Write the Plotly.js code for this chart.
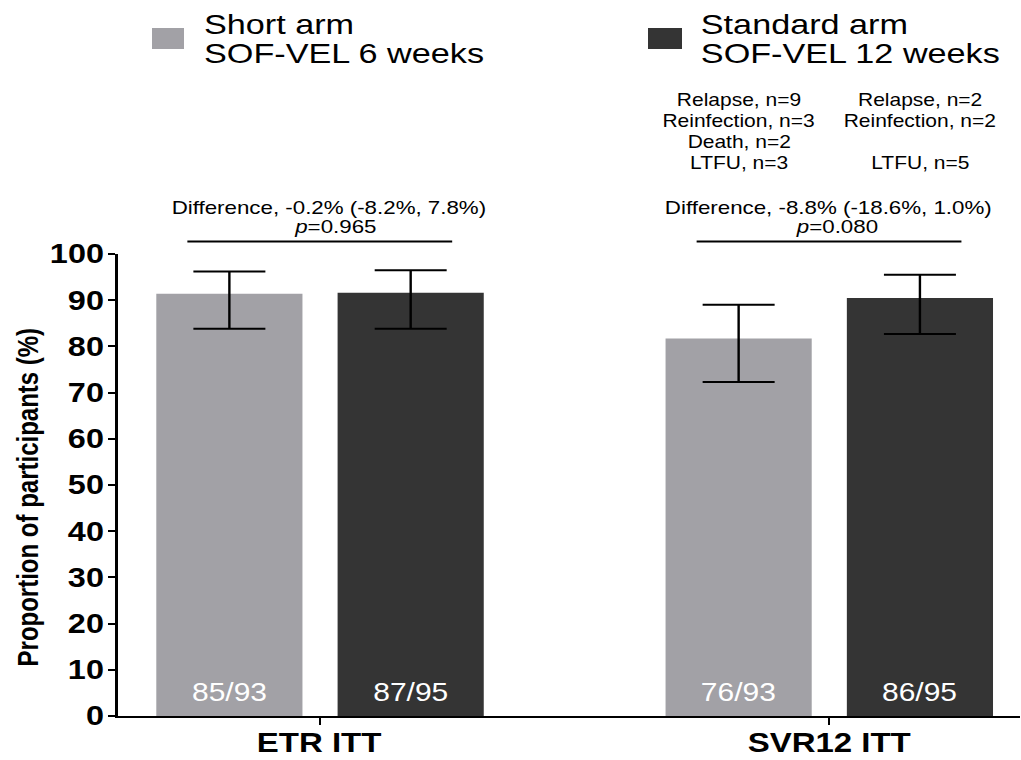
<!DOCTYPE html>
<html>
<head>
<meta charset="utf-8">
<script src="https://cdn.plot.ly/plotly-3.0.1.min.js"></script>
<style>
  html, body { margin: 0; padding: 0; background: #ffffff; overflow: hidden; }
  #chart { width: 851px; height: 760px; transform: scaleX(1.2); transform-origin: 0 0; }
</style>
</head>
<body>
<div id="chart"></div>
<script>
// ---------------- data ----------------
const categories = ['ETR ITT', 'SVR12 ITT'];
const seriesNames = ['Short arm', 'Standard arm'];
const seriesSubNames = ['SOF-VEL 6 weeks', 'SOF-VEL 12 weeks'];
const shortArm = [91.4, 81.7];          // %
const standardArm = [91.6, 90.5];       // %
const shortLower = [83.8, 72.3];
const shortUpper = [96.2, 89.0];
const standardLower = [83.8, 82.7];
const standardUpper = [96.5, 95.5];
const shortCounts = ['85/93', '76/93'];
const standardCounts = ['87/95', '86/95'];
const differenceText = ['Difference, -0.2% (-8.2%, 7.8%)', 'Difference, -8.8% (-18.6%, 1.0%)'];
const pValueText = ['0.965', '0.080'];
const shortOutcomes = ['Relapse, n=9', 'Reinfection, n=3', 'Death, n=2', 'LTFU, n=3'];
const standardOutcomes = ['Relapse, n=2', 'Reinfection, n=2', '', 'LTFU, n=5'];
const yTicks = [0, 10, 20, 30, 40, 50, 60, 70, 80, 90, 100];

// ---------------- styling / geometry ----------------
const S = 1.2;                 // horizontal stretch of the whole figure
const W = 851, H = 760;
const M = { l: 98, r: 1, t: 254, b: 44 };
const PW = W - M.l - M.r, PH = H - M.t - M.b;
const xr = [-0.397, 1.375];
const yr = [0, 100];
const colShort = '#a2a1a6';
const colStd = '#343434';
const FONT = '"Liberation Sans", Arial, Helvetica, sans-serif';
const barW = 0.287;
const offShort = -0.321, offStd = 0.035;

const xIdx = categories.map((c, i) => i);
const pxX = xo => (xo / S - M.l) / PW;                 // original pixel -> paper x
const pxY = yo => (M.t + PH - yo) / PH;                // original pixel -> paper y
const dX = x => (x - xr[0]) / (xr[1] - xr[0]);         // data x -> paper x

const traces = [
  {
    type: 'bar', name: seriesNames[0], x: xIdx, y: shortArm,
    width: barW, offset: offShort,
    marker: { color: colShort, line: { width: 0 } },
    error_y: {
      type: 'data', symmetric: false,
      array: shortUpper.map((u, i) => u - shortArm[i]),
      arrayminus: shortLower.map((l, i) => shortArm[i] - l),
      color: '#000000', thickness: 2, width: 30
    },
    hoverinfo: 'skip', showlegend: false
  },
  {
    type: 'bar', name: seriesNames[1], x: xIdx, y: standardArm,
    width: barW, offset: offStd,
    marker: { color: colStd, line: { width: 0 } },
    error_y: {
      type: 'data', symmetric: false,
      array: standardUpper.map((u, i) => u - standardArm[i]),
      arrayminus: standardLower.map((l, i) => standardArm[i] - l),
      color: '#000000', thickness: 2, width: 30
    },
    hoverinfo: 'skip', showlegend: false
  }
];

const annotations = [];
const shapes = [];

// counts inside bars
xIdx.forEach(i => {
  annotations.push({ x: i + offShort + barW / 2, y: 5.3, xref: 'x', yref: 'y', text: shortCounts[i],
    showarrow: false, xanchor: 'center', yanchor: 'middle', font: { family: FONT, size: 25, color: '#ffffff' } });
  annotations.push({ x: i + offStd + barW / 2, y: 5.3, xref: 'x', yref: 'y', text: standardCounts[i],
    showarrow: false, xanchor: 'center', yanchor: 'middle', font: { family: FONT, size: 25, color: '#ffffff' } });
});

// category labels under the axis
xIdx.forEach(i => {
  annotations.push({ x: i, y: pxY(742), xref: 'x', yref: 'paper', text: categories[i],
    showarrow: false, xanchor: 'center', yanchor: 'middle',
    font: { family: FONT, size: 27.5, color: '#000000', weight: 'bold' } });
});

// comparison brackets and texts
const diffShift = [8, 0];
const pShift = [13, 7];
xIdx.forEach(i => {
  shapes.push({ type: 'line', xref: 'paper', yref: 'paper', x0: dX(i - 0.26), x1: dX(i + 0.26),
    y0: pxY(241.5), y1: pxY(241.5), line: { color: '#000000', width: 2 } });
  annotations.push({ x: i, y: pxY(207), xref: 'x', yref: 'paper', xshift: diffShift[i], text: differenceText[i],
    showarrow: false, xanchor: 'center', yanchor: 'middle', font: { family: FONT, size: 18.6, color: '#000000' } });
  annotations.push({ x: i, y: pxY(227), xref: 'x', yref: 'paper', xshift: pShift[i], text: '<i>p</i>=' + pValueText[i],
    showarrow: false, xanchor: 'center', yanchor: 'middle', font: { family: FONT, size: 18.6, color: '#000000' } });
});

// reasons for not achieving SVR12 (second category)
const outcomeY = [100, 121, 142, 163];
shortOutcomes.forEach((t, k) => {
  if (t) annotations.push({ x: 1 + offShort + barW / 2, y: pxY(outcomeY[k]), xref: 'x', yref: 'paper', text: t,
    showarrow: false, xanchor: 'center', yanchor: 'middle', font: { family: FONT, size: 17.5, color: '#000000' } });
});
standardOutcomes.forEach((t, k) => {
  if (t) annotations.push({ x: 1 + offStd + barW / 2, y: pxY(outcomeY[k]), xref: 'x', yref: 'paper', text: t,
    showarrow: false, xanchor: 'center', yanchor: 'middle', font: { family: FONT, size: 17.5, color: '#000000' } });
});

// legend (manual)
const legendBox = [[152, 184], [648, 682]];
const legendText = [202, 698];
const legendCols = [colShort, colStd];
[0, 1].forEach(k => {
  shapes.push({ type: 'rect', xref: 'paper', yref: 'paper', x0: pxX(legendBox[k][0]), x1: pxX(legendBox[k][1]),
    y0: pxY(49), y1: pxY(28), fillcolor: legendCols[k], line: { width: 0 } });
  annotations.push({ x: pxX(legendText[k]), y: pxY(24), xref: 'paper', yref: 'paper', text: seriesNames[k],
    showarrow: false, xanchor: 'left', yanchor: 'middle', font: { family: FONT, size: 28.5, color: '#000000' } });
  annotations.push({ x: pxX(legendText[k]), y: pxY(52.5), xref: 'paper', yref: 'paper', text: seriesSubNames[k],
    showarrow: false, xanchor: 'left', yanchor: 'middle', font: { family: FONT, size: 28.5, color: '#000000' } });
});

// y-axis title
annotations.push({ x: pxX(27), y: pxY(497), xref: 'paper', yref: 'paper', text: 'Proportion of participants (%)',
  textangle: -90, showarrow: false, xanchor: 'center', yanchor: 'middle',
  font: { family: FONT, size: 24, color: '#000000', weight: 'bold' } });

const layout = {
  width: W, height: H, autosize: false,
  margin: M,
  paper_bgcolor: '#ffffff', plot_bgcolor: '#ffffff',
  barmode: 'overlay',
  showlegend: false,
  xaxis: {
    range: xr, tickmode: 'array', tickvals: xIdx, showticklabels: false,
    showgrid: false, zeroline: false, showline: true, linecolor: '#000000', linewidth: 2,
    ticks: 'outside', ticklen: 7, tickwidth: 2, tickcolor: '#000000',
    fixedrange: true
  },
  yaxis: {
    range: yr, tickmode: 'array', tickvals: yTicks,
    showgrid: false, zeroline: false, showline: true, linecolor: '#000000', linewidth: 2,
    ticks: 'outside', ticklen: 6, tickwidth: 2, tickcolor: '#000000',
    ticklabelstandoff: -2,
    tickfont: { family: FONT, size: 27, color: '#000000', weight: 'bold' },
    fixedrange: true
  },
  annotations: annotations,
  shapes: shapes
};

Plotly.newPlot('chart', traces, layout, { staticPlot: true, displayModeBar: false });
</script>
</body>
</html>
